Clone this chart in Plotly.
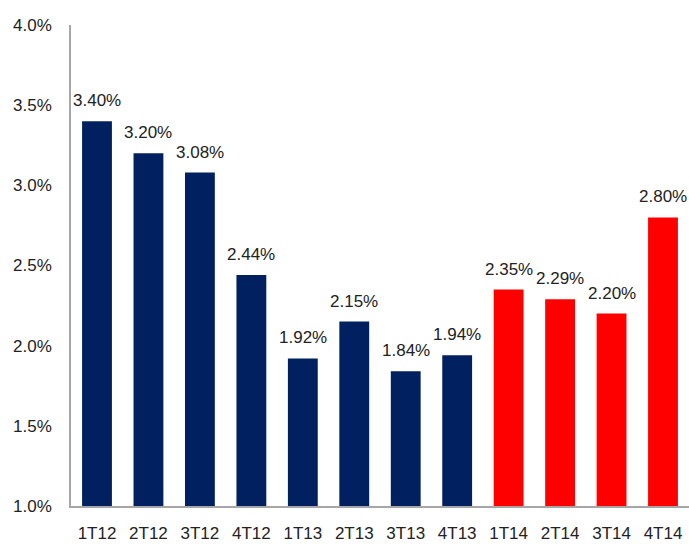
import plotly.graph_objects as go

categories = ["1T12", "2T12", "3T12", "4T12", "1T13", "2T13", "3T13", "4T13",
              "1T14", "2T14", "3T14", "4T14"]
values = [3.40, 3.20, 3.08, 2.44, 1.92, 2.15, 1.84, 1.94, 2.35, 2.29, 2.20, 2.80]
colors = ["#002060"] * 8 + ["#FF0000"] * 4
tick_vals = [1.0, 1.5, 2.0, 2.5, 3.0, 3.5, 4.0]
tick_text = ["1.0%", "1.5%", "2.0%", "2.5%", "3.0%", "3.5%", "4.0%"]

FONT = "Liberation Sans, Arial"

fig = go.Figure(go.Bar(
    x=categories, y=values,
    marker=dict(color=colors, line=dict(width=0)),
    width=0.58,
    cliponaxis=False,
))

for c, v in zip(categories, values):
    fig.add_annotation(x=c, y=v, text=f"{v:.2f}%", showarrow=False,
                       yanchor="bottom", yshift=9,
                       font=dict(family=FONT, size=17, color="#222222"))

fig.update_layout(
    width=689, height=546,
    margin=dict(l=71, r=0, t=25, b=40),
    paper_bgcolor="white", plot_bgcolor="white",
    showlegend=False,
    font=dict(family=FONT, size=17, color="#222222"),
    xaxis=dict(showline=True, linecolor="#A6A6A6", linewidth=1.5, ticks="",
               showgrid=False, tickfont=dict(size=17), ticklabelstandoff=11),
    yaxis=dict(range=[1.0, 4.0], tickvals=tick_vals, ticktext=tick_text,
               showline=True, linecolor="#A6A6A6", linewidth=1.5, ticks="",
               showgrid=False, zeroline=False, ticklabelstandoff=14, tickfont=dict(size=17)),
)

fig.write_html("out.html")
